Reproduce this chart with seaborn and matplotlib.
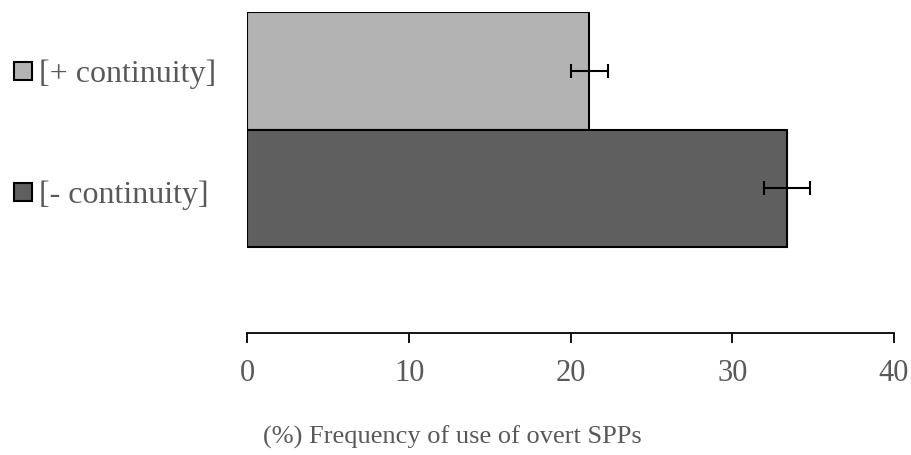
import matplotlib
matplotlib.use("Agg")
import matplotlib.pyplot as plt
from matplotlib.patches import Rectangle
import seaborn as sns
import pandas as pd

categories = ["[+ continuity]", "[- continuity]"]
values = [21.15, 33.4]
errors = [1.16, 1.42]
colors = ["#b3b3b3", "#5f5f5f"]
xticks = [0, 10, 20, 30, 40]
xlabel = "(%) Frequency of use of overt SPPs"

sns.set_theme(style="white")
plt.rcParams["font.family"] = ["Liberation Serif", "DejaVu Serif"]

text_grey = "#595959"
W, H = 912, 456
fig = plt.figure(figsize=(W / 100, H / 100), dpi=100)
ax_left, ax_right = 247.5 / W, 894 / W
ax_top, ax_bottom = 1 - 13 / H, 1 - 334 / H
ax = fig.add_axes([ax_left, ax_bottom, ax_right - ax_left, ax_top - ax_bottom])

df = pd.DataFrame({"cat": categories, "val": values})
sns.barplot(data=df, x="val", y="cat", hue="cat", palette=colors,
            orient="h", width=1.0, errorbar=None, legend=False,
            edgecolor="black", linewidth=1.5, ax=ax)
ax.errorbar(values, range(len(values)), xerr=errors, fmt="none",
            ecolor="black", elinewidth=1.5, capsize=5, capthick=1.5)

ax.set_xlim(0, 40)
ax.set_ylim(2.23, -0.5)
ax.set_xticks(xticks)
ax.set_xticklabels([str(t) for t in xticks], fontsize=22, color=text_grey)
ax.tick_params(axis="x", direction="out", length=7, width=1.3,
               color="black", pad=11, bottom=True)
ax.set_yticks([])
ax.set_ylabel("")
ax.set_xlabel("")
fig.text(452 / W, 1 - 437 / H, xlabel, fontsize=19, color=text_grey,
         ha="center", va="center")

for s in ["top", "right", "left"]:
    ax.spines[s].set_visible(False)
ax.spines["bottom"].set_color("black")
ax.spines["bottom"].set_linewidth(1.3)

# category keys: grey square followed by the label, left-aligned
label_rows = [74, 195]   # vertical centres in pixels from the top
key_rows = [72, 193]
size = 18
for name, c, ty, ky in zip(categories, colors, label_rows, key_rows):
    fig.patches.append(Rectangle((14.5 / W, 1 - (ky + size / 2) / H), size / W, size / H,
                                 transform=fig.transFigure, facecolor=c,
                                 edgecolor="black", linewidth=1.5))
    fig.text(39 / W, 1 - ty / H, name, fontsize=23, color=text_grey,
             ha="left", va="center")

fig.savefig("out.png", dpi=100)
